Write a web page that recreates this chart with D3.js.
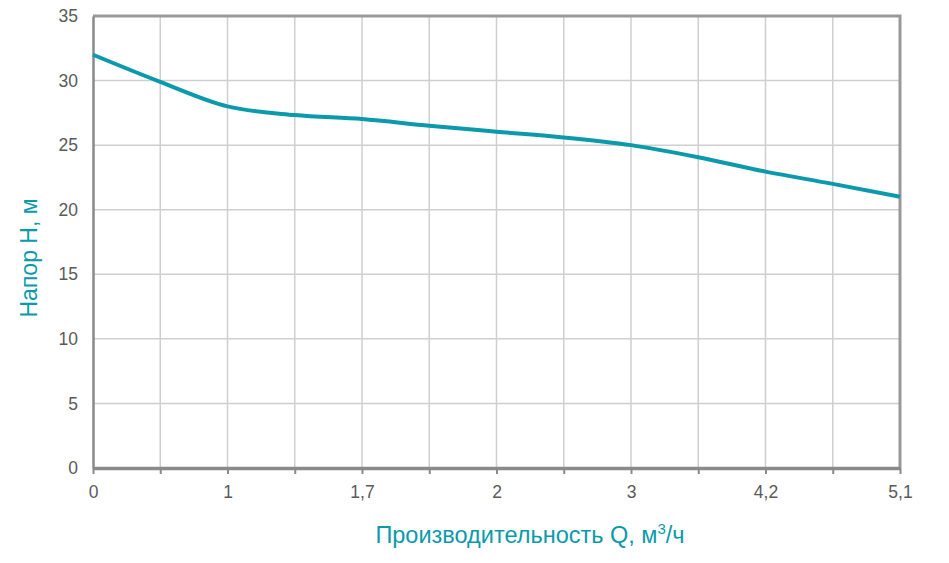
<!DOCTYPE html>
<html>
<head>
<meta charset="utf-8">
<script src="https://cdn.jsdelivr.net/npm/d3@7"></script>
<style>
  body { margin: 0; background: #fff; }
  text { font-family: "Liberation Sans", Arial, sans-serif; }
</style>
</head>
<body>
<div id="chart"></div>
<script>
// Data
const qSlots = d3.range(13)
const qLabels = ["0", "", "1", "", "1,7", "", "2", "", "3", "", "4,2", "", "5,1"]
const headValues = [32, 29.9, 28, 27.33, 27.02, 26.5, 26.04, 25.6, 25, 24.06, 22.95, 22, 21]
const yTicks = [0, 5, 10, 15, 20, 25, 30, 35]

// Layout consts
const width = 949
const height = 563
const margin = { top: 16, right: 49, bottom: 95, left: 93 }
const innerW = width - margin.left - margin.right
const innerH = height - margin.top - margin.bottom
const teal = "#0a9aab"
const gridColor = "#cfcfcf"
const axisColor = "#8a8a8a"
const labelColor = "#5a5a5a"

const svg = d3.select("#chart").append("svg")
    .attr("width", width)
    .attr("height", height)

const g = svg.append("g")
    .attr("transform", "translate(" + margin.left + "," + margin.top + ")")

const x = d3.scalePoint().domain(qSlots).range([0, innerW])
const y = d3.scaleLinear().domain([0, 35]).range([innerH, 0])

// Grid
g.append("g").selectAll("line.v")
    .data(qSlots.slice(1, -1))
    .join("line")
    .attr("x1", d => x(d)).attr("x2", d => x(d))
    .attr("y1", 0).attr("y2", innerH)
    .attr("stroke", gridColor).attr("stroke-width", 1.5)

g.append("g").selectAll("line.h")
    .data(yTicks.slice(1, -1))
    .join("line")
    .attr("x1", 0).attr("x2", innerW)
    .attr("y1", d => y(d)).attr("y2", d => y(d))
    .attr("stroke", gridColor).attr("stroke-width", 1.5)

// Frame (top + right)
g.append("path")
    .attr("d", "M0," + y(35) + "H" + innerW + "V" + innerH)
    .attr("fill", "none")
    .attr("stroke", "#999").attr("stroke-width", 3)

// Y axis
const yAxis = g.append("g")
    .call(d3.axisLeft(y).tickValues(yTicks).tickSize(0).tickPadding(15))
yAxis.select(".domain").attr("stroke", axisColor).attr("stroke-width", 2.5)
yAxis.selectAll("text")
    .attr("fill", labelColor)
    .style("font-size", "17.5px")

// X axis
const xAxis = g.append("g")
    .attr("transform", "translate(0," + innerH + ")")
    .call(d3.axisBottom(x).tickFormat((d, i) => qLabels[i]).tickSize(6).tickSizeOuter(0).tickPadding(12))
xAxis.select(".domain").attr("stroke", axisColor).attr("stroke-width", 3.5)
xAxis.selectAll(".tick line").attr("stroke", axisColor).attr("stroke-width", 2)
xAxis.selectAll("text")
    .attr("fill", labelColor)
    .style("font-size", "17.5px")

// Curve
const line = d3.line()
    .x((d, i) => x(qSlots[i]))
    .y(d => y(d))
    .curve(d3.curveMonotoneX)

g.append("path")
    .datum(headValues)
    .attr("fill", "none")
    .attr("stroke", teal)
    .attr("stroke-width", 4)
    .attr("d", line)

// Titles
svg.append("text")
    .attr("transform", "translate(37,258) rotate(-90)")
    .attr("text-anchor", "middle")
    .attr("fill", teal)
    .style("font-size", "23px")
    .text("Напор H, м")

const xt = svg.append("text")
    .attr("x", 530)
    .attr("y", 543)
    .attr("text-anchor", "middle")
    .attr("fill", teal)
    .style("font-size", "23.5px")
xt.append("tspan").text("Производительность Q, м")
xt.append("tspan").attr("dy", -9).style("font-size", "15px").text("3")
xt.append("tspan").attr("dy", 9).text("/ч")
</script>
</body>
</html>
